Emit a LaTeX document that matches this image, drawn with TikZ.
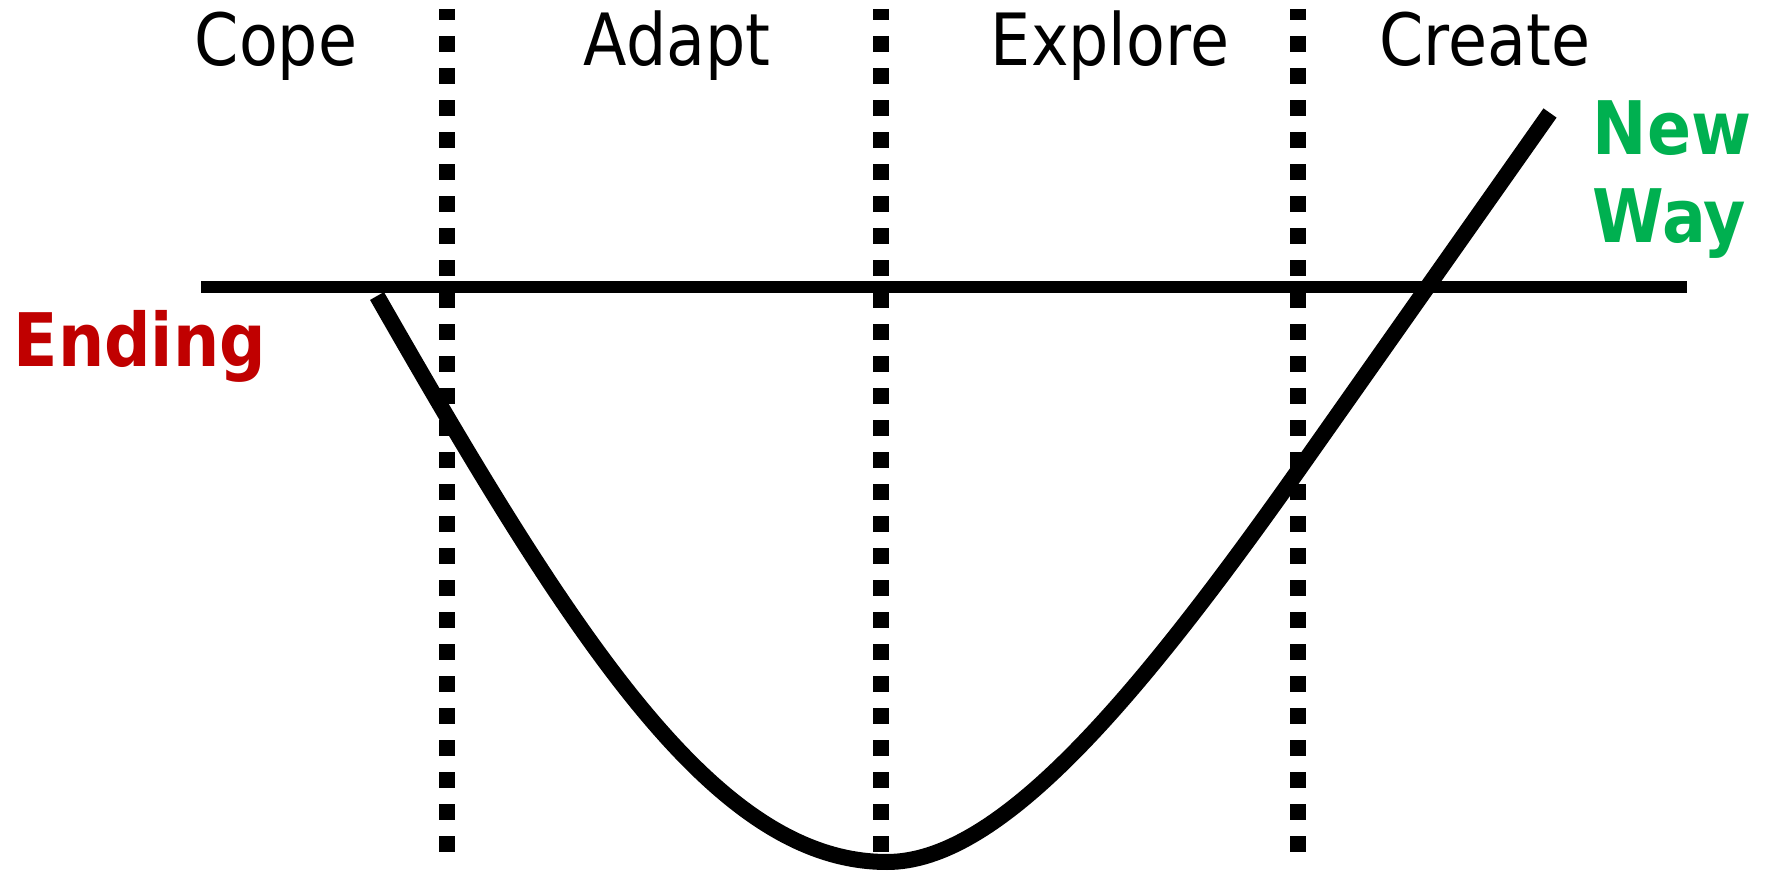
\documentclass[tikz,border=0pt]{standalone}
\usepackage{fontspec}
\setmainfont{DejaVu Sans}[FakeStretch=0.88]
\usetikzlibrary{positioning}
\definecolor{endred}{RGB}{192,0,0}
\definecolor{waygreen}{RGB}{0,176,80}
\tikzset{
  phase/.style={font=\fontsize{20.5}{24}\selectfont, anchor=base, inner sep=0pt},
  endlbl/.style={font=\fontsize{21}{25.3}\selectfont\bfseries, anchor=base west, inner sep=0pt, align=left},
  divider/.style={line width=0.16cm, dash pattern=on 0.16cm off 0.16cm, dash phase=0.05cm},
  nowline/.style={line width=0.12cm},
  change/.style={line width=0.16cm}
}

\begin{document}
\begin{tikzpicture}[x=0.01cm, y=-0.01cm]
  \useasboundingbox (0,0) rectangle (1773,871);

  % phase labels
  \node[phase] (cope)    at (276,66)  {Cope};
  \node[phase] (adapt)   at (677,66)  {Adapt};
  \node[phase] (explore) at (1110,66) {Explore};
  \node[phase] (create)  at (1485,66) {Create};

  % dividers
  \foreach \x/\n in {447/a,881/b,1298/c} {
    \coordinate (top\n) at (\x,9);
    \coordinate (bot\n) at (\x,852);
    \draw[divider] (top\n) -- (bot\n);
  }

  % today line
  \coordinate (lineL) at (201,287);
  \coordinate (lineR) at (1687,287);
  \draw[nowline] (lineL) -- (lineR);

  % end / new way
  \node[endlbl, text=endred] (ending) at (13,367) {Ending};
  \node[endlbl, text=waygreen] (newway) at (1592,243) {New\\Way};

  % transition curve
  \coordinate (start)  at (377,296);
  \coordinate (low)    at (887,862);
  \coordinate (rise)   at (1300,468);
  \coordinate (finish) at (1550,113);
  \draw[change] (start) .. controls (577,646) and (717,862) .. (low)
    .. controls (997,862) and (1130,709) .. (rise) -- (finish);
\end{tikzpicture}
\end{document}
